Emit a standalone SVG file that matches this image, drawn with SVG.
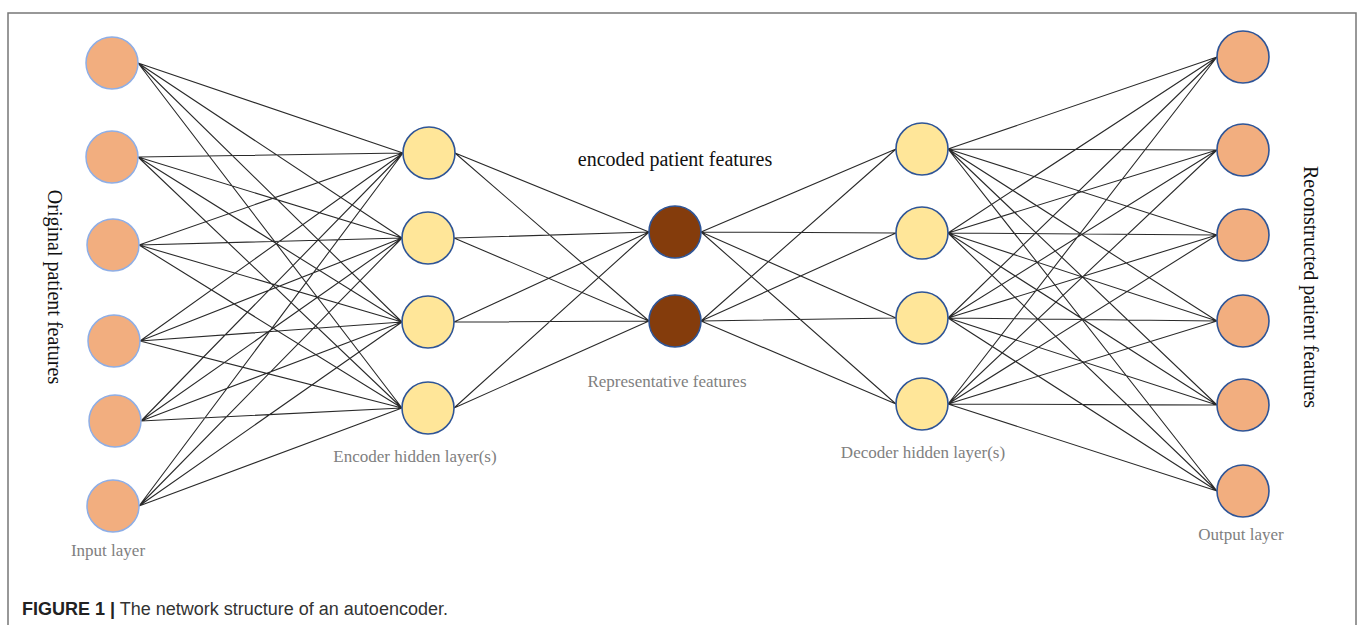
<svg xmlns="http://www.w3.org/2000/svg" width="1357" height="625" viewBox="0 0 1357 625">
<style>
.e{stroke:#2a2a2a;stroke-width:1.1;fill:none}
.in{fill:#F2AE7F;stroke:#8EAEE6;stroke-width:1.5}
.hid{fill:#FFE699;stroke:#2F5597;stroke-width:1.6}
.code{fill:#843C0C;stroke:#2F5597;stroke-width:1.6}
.out{fill:#F2AE7F;stroke:#2F5597;stroke-width:1.6}
.lbl{font-family:"Liberation Serif",serif;font-size:17px;fill:#808080;text-anchor:middle}
.big{font-family:"Liberation Serif",serif;font-size:20px;fill:#111;text-anchor:middle}
.cap{font-family:"Liberation Sans",Arial,sans-serif;font-size:18px;fill:#333}
</style>
<rect x="8" y="13" width="1348" height="640" fill="none" stroke="#777" stroke-width="1.5"/>
<g id="connectors">
<path class="e" d="M138,63L403,153M138,63L402,238M138,63L402,322M138,63L402,408
M138,157L403,153M138,157L402,238M138,157L402,322M138,157L402,408
M139,245L403,153M139,245L402,238M139,245L402,322M139,245L402,408
M140,341L403,153M140,341L402,238M140,341L402,322M140,341L402,408
M141,421L403,153M141,421L402,238M141,421L402,322M141,421L402,408
M139,506L403,153M139,506L402,238M139,506L402,322M139,506L402,408
M455,153L649,232M455,153L649,321M454,238L649,232M454,238L649,321
M454,322L649,232M454,322L649,321M454,408L649,232M454,408L649,321
M701,232L896,149M701,232L896,233M701,232L896,318M701,232L896,404
M701,321L896,149M701,321L896,233M701,321L896,318M701,321L896,404
M948,149L1217,57M948,149L1217,150M948,149L1217,235M948,149L1217,321M948,149L1217,405M948,149L1217,491
M948,233L1217,57M948,233L1217,150M948,233L1217,235M948,233L1217,321M948,233L1217,405M948,233L1217,491
M948,318L1217,57M948,318L1217,150M948,318L1217,235M948,318L1217,321M948,318L1217,405M948,318L1217,491
M948,404L1217,57M948,404L1217,150M948,404L1217,235M948,404L1217,321M948,404L1217,405M948,404L1217,491"/>
</g>
<g id="input-layer">
<circle id="in1" class="in" cx="112" cy="63" r="26"/>
<circle id="in2" class="in" cx="112" cy="157" r="26"/>
<circle id="in3" class="in" cx="113" cy="245" r="26"/>
<circle id="in4" class="in" cx="114" cy="341" r="26"/>
<circle id="in5" class="in" cx="115" cy="421" r="26"/>
<circle id="in6" class="in" cx="113" cy="506" r="26"/>
</g>
<g id="encoder-layer">
<circle id="enc1" class="hid" cx="429" cy="153" r="26"/>
<circle id="enc2" class="hid" cx="428" cy="238" r="26"/>
<circle id="enc3" class="hid" cx="428" cy="322" r="26"/>
<circle id="enc4" class="hid" cx="428" cy="408" r="26"/>
</g>
<g id="code-layer">
<circle id="code1" class="code" cx="675" cy="232" r="26"/>
<circle id="code2" class="code" cx="675" cy="321" r="26"/>
</g>
<g id="decoder-layer">
<circle id="dec1" class="hid" cx="922" cy="149" r="26"/>
<circle id="dec2" class="hid" cx="922" cy="233" r="26"/>
<circle id="dec3" class="hid" cx="922" cy="318" r="26"/>
<circle id="dec4" class="hid" cx="922" cy="404" r="26"/>
</g>
<g id="output-layer">
<circle id="out1" class="out" cx="1243" cy="57" r="26"/>
<circle id="out2" class="out" cx="1243" cy="150" r="26"/>
<circle id="out3" class="out" cx="1243" cy="235" r="26"/>
<circle id="out4" class="out" cx="1243" cy="321" r="26"/>
<circle id="out5" class="out" cx="1243" cy="405" r="26"/>
<circle id="out6" class="out" cx="1243" cy="491" r="26"/>
</g>
<g id="labels">
<text class="big" transform="translate(48,287) rotate(90)">Original patient features</text>
<text class="big" transform="translate(1304,287) rotate(90)">Reconstructed patient features</text>
<text class="big" x="675" y="166">encoded patient features</text>
<text class="lbl" x="667" y="387">Representative features</text>
<text class="lbl" x="415" y="462">Encoder hidden layer(s)</text>
<text class="lbl" x="923" y="458">Decoder hidden layer(s)</text>
<text class="lbl" x="108" y="556">Input layer</text>
<text class="lbl" x="1241" y="540">Output layer</text>
</g>
<text class="cap" x="22" y="615"><tspan font-weight="bold" fill="#222">FIGURE 1 |</tspan> The network structure of an autoencoder.</text>
</svg>
